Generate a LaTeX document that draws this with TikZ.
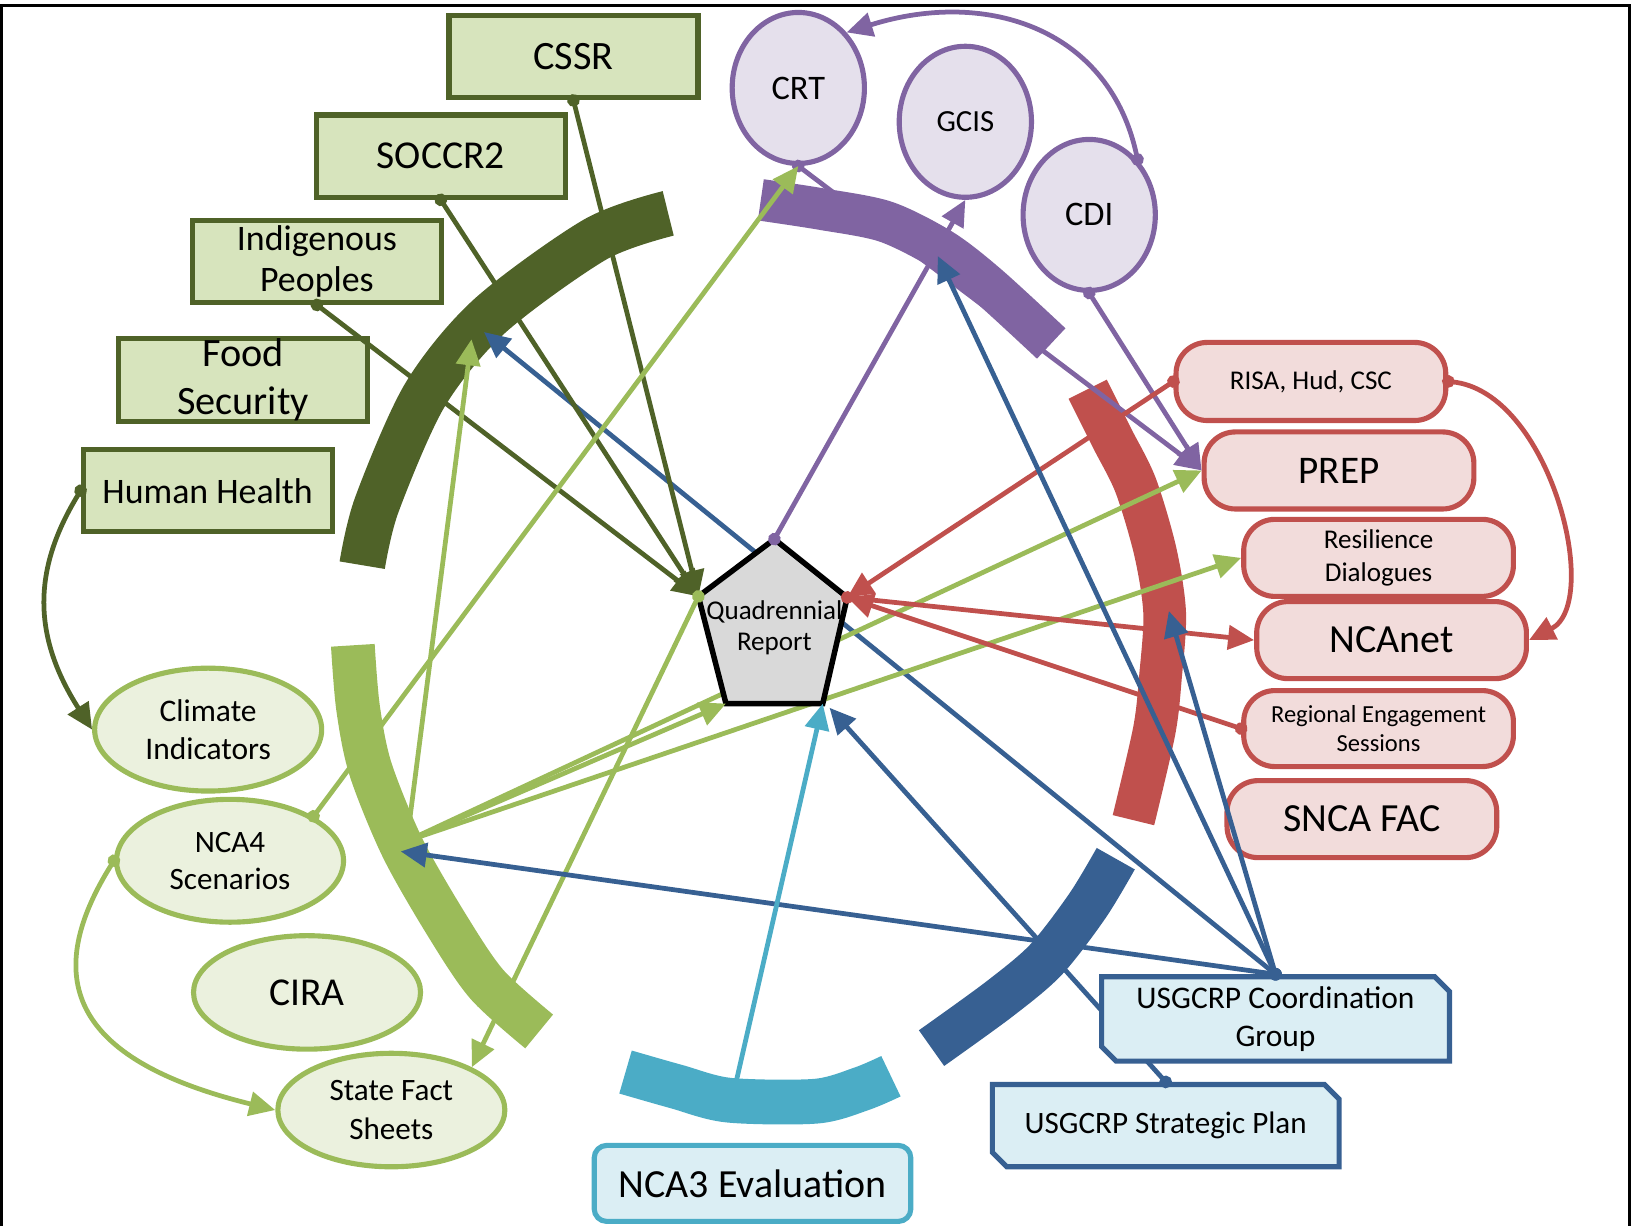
\documentclass[tikz,border=0pt]{standalone}
\usepackage{fontspec}
\setmainfont{Carlito}
\usetikzlibrary{shapes,shapes.geometric,shapes.misc,arrows.meta,positioning}

\definecolor{dkgrn}{HTML}{4F6228}
\definecolor{dkgrnfill}{HTML}{D7E4BD}
\definecolor{ltgrn}{HTML}{9BBB59}
\definecolor{ltgrnfill}{HTML}{EBF1DE}
\definecolor{purp}{HTML}{8064A2}
\definecolor{purpfill}{HTML}{E5E0EC}
\definecolor{redd}{HTML}{C0504D}
\definecolor{reddfill}{HTML}{F2DCDB}
\definecolor{blu}{HTML}{376092}
\definecolor{blufill}{HTML}{DBEEF4}
\definecolor{tealc}{HTML}{4BACC6}
\definecolor{qgray}{HTML}{D9D9D9}

\newcommand{\fsz}[2]{\fontsize{#1}{#2}\selectfont}

\begin{document}
\begin{tikzpicture}[
    x=0.01cm, y=-0.01cm,
    report/.style={rectangle,draw=dkgrn,fill=dkgrnfill,line width=1.4pt,minimum width=2.39cm,minimum height=0.79cm,inner sep=0pt,align=center},
    prod/.style={ellipse,draw=ltgrn,fill=ltgrnfill,line width=1.4pt,minimum width=2.18cm,inner sep=0pt,align=center},
    tool/.style={ellipse,draw=purp,fill=purpfill,line width=1.4pt,minimum width=1.27cm,minimum height=1.45cm,inner sep=0pt},
    engage/.style={rectangle,rounded corners=0.3cm,draw=redd,fill=reddfill,line width=1.4pt,minimum width=2.59cm,minimum height=0.74cm,inner sep=0pt,align=center},
    govbox/.style={chamfered rectangle,chamfered rectangle corners={north east,south west},chamfered rectangle sep=0.07cm,draw=blu,fill=blufill,line width=1.4pt,minimum width=3.34cm,minimum height=0.8cm,inner sep=0pt,align=center},
    band/.style={line width=0.42cm},
    link/.style={line width=1.3pt,{Circle[length=0.12cm]}-{Triangle[length=0.25cm,width=0.23cm]},shorten <=-0.06cm},
    feed/.style={line width=1.3pt,-{Triangle[length=0.25cm,width=0.23cm]}}]

  \useasboundingbox (0,0) rectangle (1568,1178);
  \draw[line width=0.8pt] (1.5,1178) -- (1.5,5.5) -- (1565.5,5.5) -- (1565.5,1178);

  % bands round the report
  \draw[band,dkgrn,line width=0.44cm] plot[smooth] coordinates {(348,543) (362,485) (408,380) (470,304) (572,230) (642,205)};
  \draw[band,ltgrn] plot[smooth] coordinates {(339,620) (344,680) (356,739) (387,815) (430,890) (468,946) (518,991)};
  \draw[band,redd,line width=0.41cm] plot[smooth] coordinates {(1045,374) (1068,420) (1091,466) (1110,530) (1119,589) (1115,650) (1109,702) (1089,788)};
  \draw[band,blu] plot[smooth] coordinates {(1072,825) (1045,870) (1005,922) (960,960) (895,1007)};
  \draw[band,tealc,line width=0.43cm] plot[smooth] coordinates {(601,1030) (650,1044) (700,1057) (784,1058) (828,1046) (856,1034)};

  \coordinate (dgA1) at (465,319);
  \coordinate (dgA2) at (453,326);
  \coordinate (puA) at (901,246);
  \coordinate (reA) at (1123,587);
  \coordinate (lgA) at (385,818);
  \coordinate (lgB) at (391,808);
  \coordinate (teA) at (706,1045);

  % tools
  \node[tool,font=\fsz{9.4}{11}] (CRT) at (767,84.5) {CRT};
  \node[tool,font=\fsz{8.4}{10}] (GCIS) at (927.5,117) {GCIS};
  \node[tool,font=\fsz{9.4}{11}] (CDI) at (1046.5,206.5) {CDI};
  \node[engage,font=\fsz{10.7}{12.8}] (PREP) at (1286.5,452) {PREP};
  \draw[link,purp] (CRT.south) -- (PREP.west);
  \draw[band,purp,line width=0.40cm] plot[smooth] coordinates {(731,192) (790,201) (851,213) (905,240) (949,274) (1010,330)};

  % report
  \coordinate (QRt) at (744,518);
  \coordinate (QRl) at (671,573);
  \coordinate (QRr) at (814,574);
  \coordinate (QRbl) at (697.5,676);
  \coordinate (QRbr) at (790.5,676);
  \coordinate (QRbr2) at (797,680);
  \node[engage,font=\fsz{7.4}{9.1}] (RD) at (1324.5,536) {Resilience\\Dialogues};
  \node[govbox,minimum width=3.33cm,minimum height=0.79cm,font=\fsz{8.5}{10.2}] (SP) at (1120,1081.5) {USGCRP Strategic Plan};
  \draw[link,blu] (SP.north) -- (QRbr2);
  \node[govbox,minimum height=0.81cm,font=\fsz{8.6}{10.2}] (CG) at (1225.5,979) {USGCRP Coordination\\Group};
  \draw[link,blu] (CG.north) -- (dgA1);
  \draw[feed,ltgrn] (lgB) -- (PREP.west);
  \draw[feed,ltgrn] (lgB) -- (RD.west);
  \filldraw[fill=qgray,line width=1.5pt] (QRt) -- (QRr) -- (QRbr) -- (QRbl) -- (QRl) -- cycle;
  \node[align=center,font=\fsz{7.4}{8.3}] (QR) at (744,603) {Quadrennial\\Report};

  % reports
  \node[report,font=\fsz{11}{13.2}] (CSSR) at (551,54.5) {CSSR};
  \node[report,font=\fsz{10.8}{13}] (SOCCR) at (423.5,150) {SOCCR2};
  \node[report,font=\fsz{9.8}{11.2}] (IP) at (304.5,251) {Indigenous\\Peoples};
  \node[report,font=\fsz{11}{13.1}] (FS) at (233.5,365) {Food\\Security};
  \node[report,font=\fsz{9.8}{11.5}] (HH) at (199.5,471.5) {Human Health};

  % products
  \node[prod,minimum height=1.18cm,font=\fsz{8.6}{10.4}] (CI) at (200,701) {Climate\\Indicators};
  \node[prod,minimum height=1.18cm,font=\fsz{8.5}{10.2}] (NCAf) at (221,827) {NCA4\\Scenarios};
  \node[prod,minimum height=1.09cm,font=\fsz{10.8}{13}] (CIRA) at (295,953.5) {CIRA};
  \node[prod,minimum height=1.09cm,font=\fsz{8.5}{10.4}] (SFS) at (376,1066.5) {State Fact\\Sheets};

  % engagement
  \node[engage,minimum height=0.75cm,font=\fsz{7.4}{9}] (RISA) at (1259.5,366.5) {RISA, Hud, CSC};
  \node[engage,font=\fsz{10.9}{13}] (NCAnet) at (1337,615) {NCAnet};
  \node[engage,minimum height=0.73cm,font=\fsz{6.7}{8}] (REG) at (1324.5,700) {Regional Engagement\\Sessions};
  \node[engage,font=\fsz{10.9}{13}] (SNCA) at (1308.5,787) {SNCA FAC};

  \node[rectangle,rounded corners=0.12cm,draw=tealc,fill=blufill,line width=1.4pt,minimum width=3.04cm,minimum height=0.73cm,font=\fsz{10.9}{13}] (NCAe) at (723,1137) {NCA3 Evaluation};

  % connectors
  \draw[link,dkgrn] (CSSR.south) -- (QRl);
  \draw[link,dkgrn] (SOCCR.south) -- (QRl);
  \draw[link,dkgrn] (IP.south) -- (QRl);
  \draw[link,dkgrn] (HH.west) .. controls (31,547) and (31,611) .. (CI.west);

  \draw[link,ltgrn] (NCAf.28) -- (CRT.south);
  \draw[link,ltgrn] (NCAf.west) .. controls (35,945) and (75,1020) .. (SFS.west);
  \draw[link,ltgrn] (QRl) -- (SFS.28);
  \draw[feed,ltgrn] (lgB) -- (dgA2);
  \draw[feed,ltgrn] (lgB) -- (QRbl);

  \draw[link,purp] (QRt) -- (GCIS.south);
  \draw[link,purp] (CDI.49) .. controls (1067,30) and (951,-12) .. (CRT.49);
  \draw[link,purp] (CDI.south) -- (PREP.west);

  \draw[link,redd] (RISA.west) -- (QRr);
  \draw[link,redd] (RISA.east) .. controls (1489,376) and (1540,579) .. (NCAnet.east);
  \draw[link,redd] (QRr) -- (NCAnet.west);
  \draw[link,redd] (REG.west) -- (QRr);

  \draw[link,blu] (CG.north) -- (puA);
  \draw[link,blu] (CG.north) -- (reA);
  \draw[link,blu] (CG.north) -- (lgA);

  \draw[feed,tealc] (teA) -- (QRbr);
\end{tikzpicture}
\end{document}
